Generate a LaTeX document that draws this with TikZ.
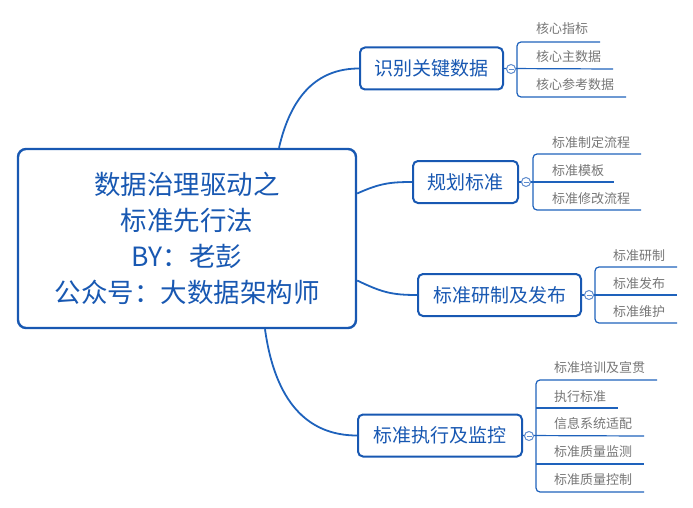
\documentclass[tikz,border=0pt]{standalone}
\usepackage{fontspec}
\setmainfont{Noto Sans CJK SC}
\usetikzlibrary{calc}
\definecolor{mblue}{RGB}{24,88,178}
\definecolor{lblue}{RGB}{30,98,188}
\definecolor{cblue}{RGB}{95,140,205}
\definecolor{subgray}{RGB}{118,118,118}
\begin{document}
\begin{tikzpicture}[x=1pt,y=-1pt,
 rootbox/.style={draw=mblue, line width=2.4pt, rounded corners=8pt, fill=white, text=mblue,
   font=\fontsize{26.5}{36}\selectfont, align=center, inner sep=0, minimum width=338pt, minimum height=179pt},
 topic/.style={draw=mblue, line width=2pt, rounded corners=5pt, fill=white, text=mblue,
   font=\fontsize{19}{22}\selectfont, inner sep=0, minimum height=42pt},
 subtxt/.style={anchor=west, text=subgray, font=\fontsize{13}{15}\selectfont, inner sep=0},
 link/.style={draw=lblue, line width=1.8pt},
 subline/.style={draw=lblue, line width=1.2pt},
 bracket/.style={subline, rounded corners=4pt},
 toggle/.style={circle, draw=cblue, fill=white, line width=1pt, minimum size=9pt, inner sep=0,
   path picture={\draw[cblue,line width=0.8pt] ([xshift=-2.5pt]path picture bounding box.center) -- ([xshift=2.5pt]path picture bounding box.center);}}
]
\useasboundingbox (0,0) rectangle (693,508);

% root
\node[rootbox] (root) at (187,238.5) {数据治理驱动之\\标准先行法\\BY：老彭\\公众号：大数据架构师};

% topics
\node[topic, minimum width=143pt] (b1) at (431.5,68.5) {识别关键数据};
\node[topic, minimum width=105pt] (b2) at (465.5,182) {规划标准};
\node[topic, minimum width=163pt] (b3) at (499.5,295) {标准研制及发布};
\node[topic, minimum width=164pt] (b4) at (440,435.5) {标准执行及监控};

% links root -> topics
\draw[link] ([xshift=92pt]root.north) .. controls +(12,-52) and +(-42,0) .. (b1.west);
\draw[link] ([yshift=45pt]root.east) .. controls +(22,-10) and +(-22,0) .. (b2.west);
\draw[link] ([yshift=-42pt]root.east) .. controls +(25,12) and +(-25,0) .. (b3.west);
\draw[link] ([xshift=78pt]root.south) .. controls +(10,72) and +(-50,0) .. (b4.west);

% ---- branch 1
\coordinate (e11) at (600,42); \coordinate (e12) at (613,69); \coordinate (e13) at (626,97);
\draw[bracket] (e11) -- (517,42) -- (517,97) -- (e13);
\draw[subline] (b1.east) -- (e12);
\node[toggle] (t1) at (511,69) {};
\node[subtxt] (s11) at (536,29) {核心指标};
\node[subtxt] (s12) at (536,57) {核心主数据};
\node[subtxt] (s13) at (536,85) {核心参考数据};

% ---- branch 2
\coordinate (e21) at (641,154); \coordinate (e22) at (614,182); \coordinate (e23) at (641,210);
\draw[bracket] (e21) -- (533,154) -- (533,210) -- (e23);
\draw[subline] (b2.east) -- (e22);
\node[toggle] (t2) at (526,182) {};
\node[subtxt] (s21) at (552,143) {标准制定流程};
\node[subtxt] (s22) at (552,171) {标准模板};
\node[subtxt] (s23) at (552,199) {标准修改流程};

% ---- branch 3
\coordinate (e31) at (677,267); \coordinate (e32) at (677,295); \coordinate (e33) at (677,323);
\draw[bracket] (e31) -- (595,267) -- (595,323) -- (e33);
\draw[subline] (b3.east) -- (e32);
\node[toggle] (t3) at (589,295) {};
\node[subtxt] (s31) at (613,256) {标准研制};
\node[subtxt] (s32) at (613,284) {标准发布};
\node[subtxt] (s33) at (613,312) {标准维护};

% ---- branch 4
\coordinate (e41) at (657,380); \coordinate (e42) at (618,408); \coordinate (e43) at (644,436);
\coordinate (e44) at (644,464); \coordinate (e45) at (644,492);
\coordinate (k42) at (536,408); \coordinate (k44) at (536,464);
\draw[bracket] (e41) -- (536,380) -- (536,492) -- (e45);
\draw[subline] (k42) -- (e42);
\draw[subline] (k44) -- (e44);
\draw[subline] (b4.east) -- (e43);
\node[toggle] (t4) at (529,436) {};
\node[subtxt] (s41) at (554,368) {标准培训及宣贯};
\node[subtxt] (s42) at (554,397) {执行标准};
\node[subtxt] (s43) at (554,424) {信息系统适配};
\node[subtxt] (s44) at (554,452) {标准质量监测};
\node[subtxt] (s45) at (554,480) {标准质量控制};
\end{tikzpicture}
\end{document}
